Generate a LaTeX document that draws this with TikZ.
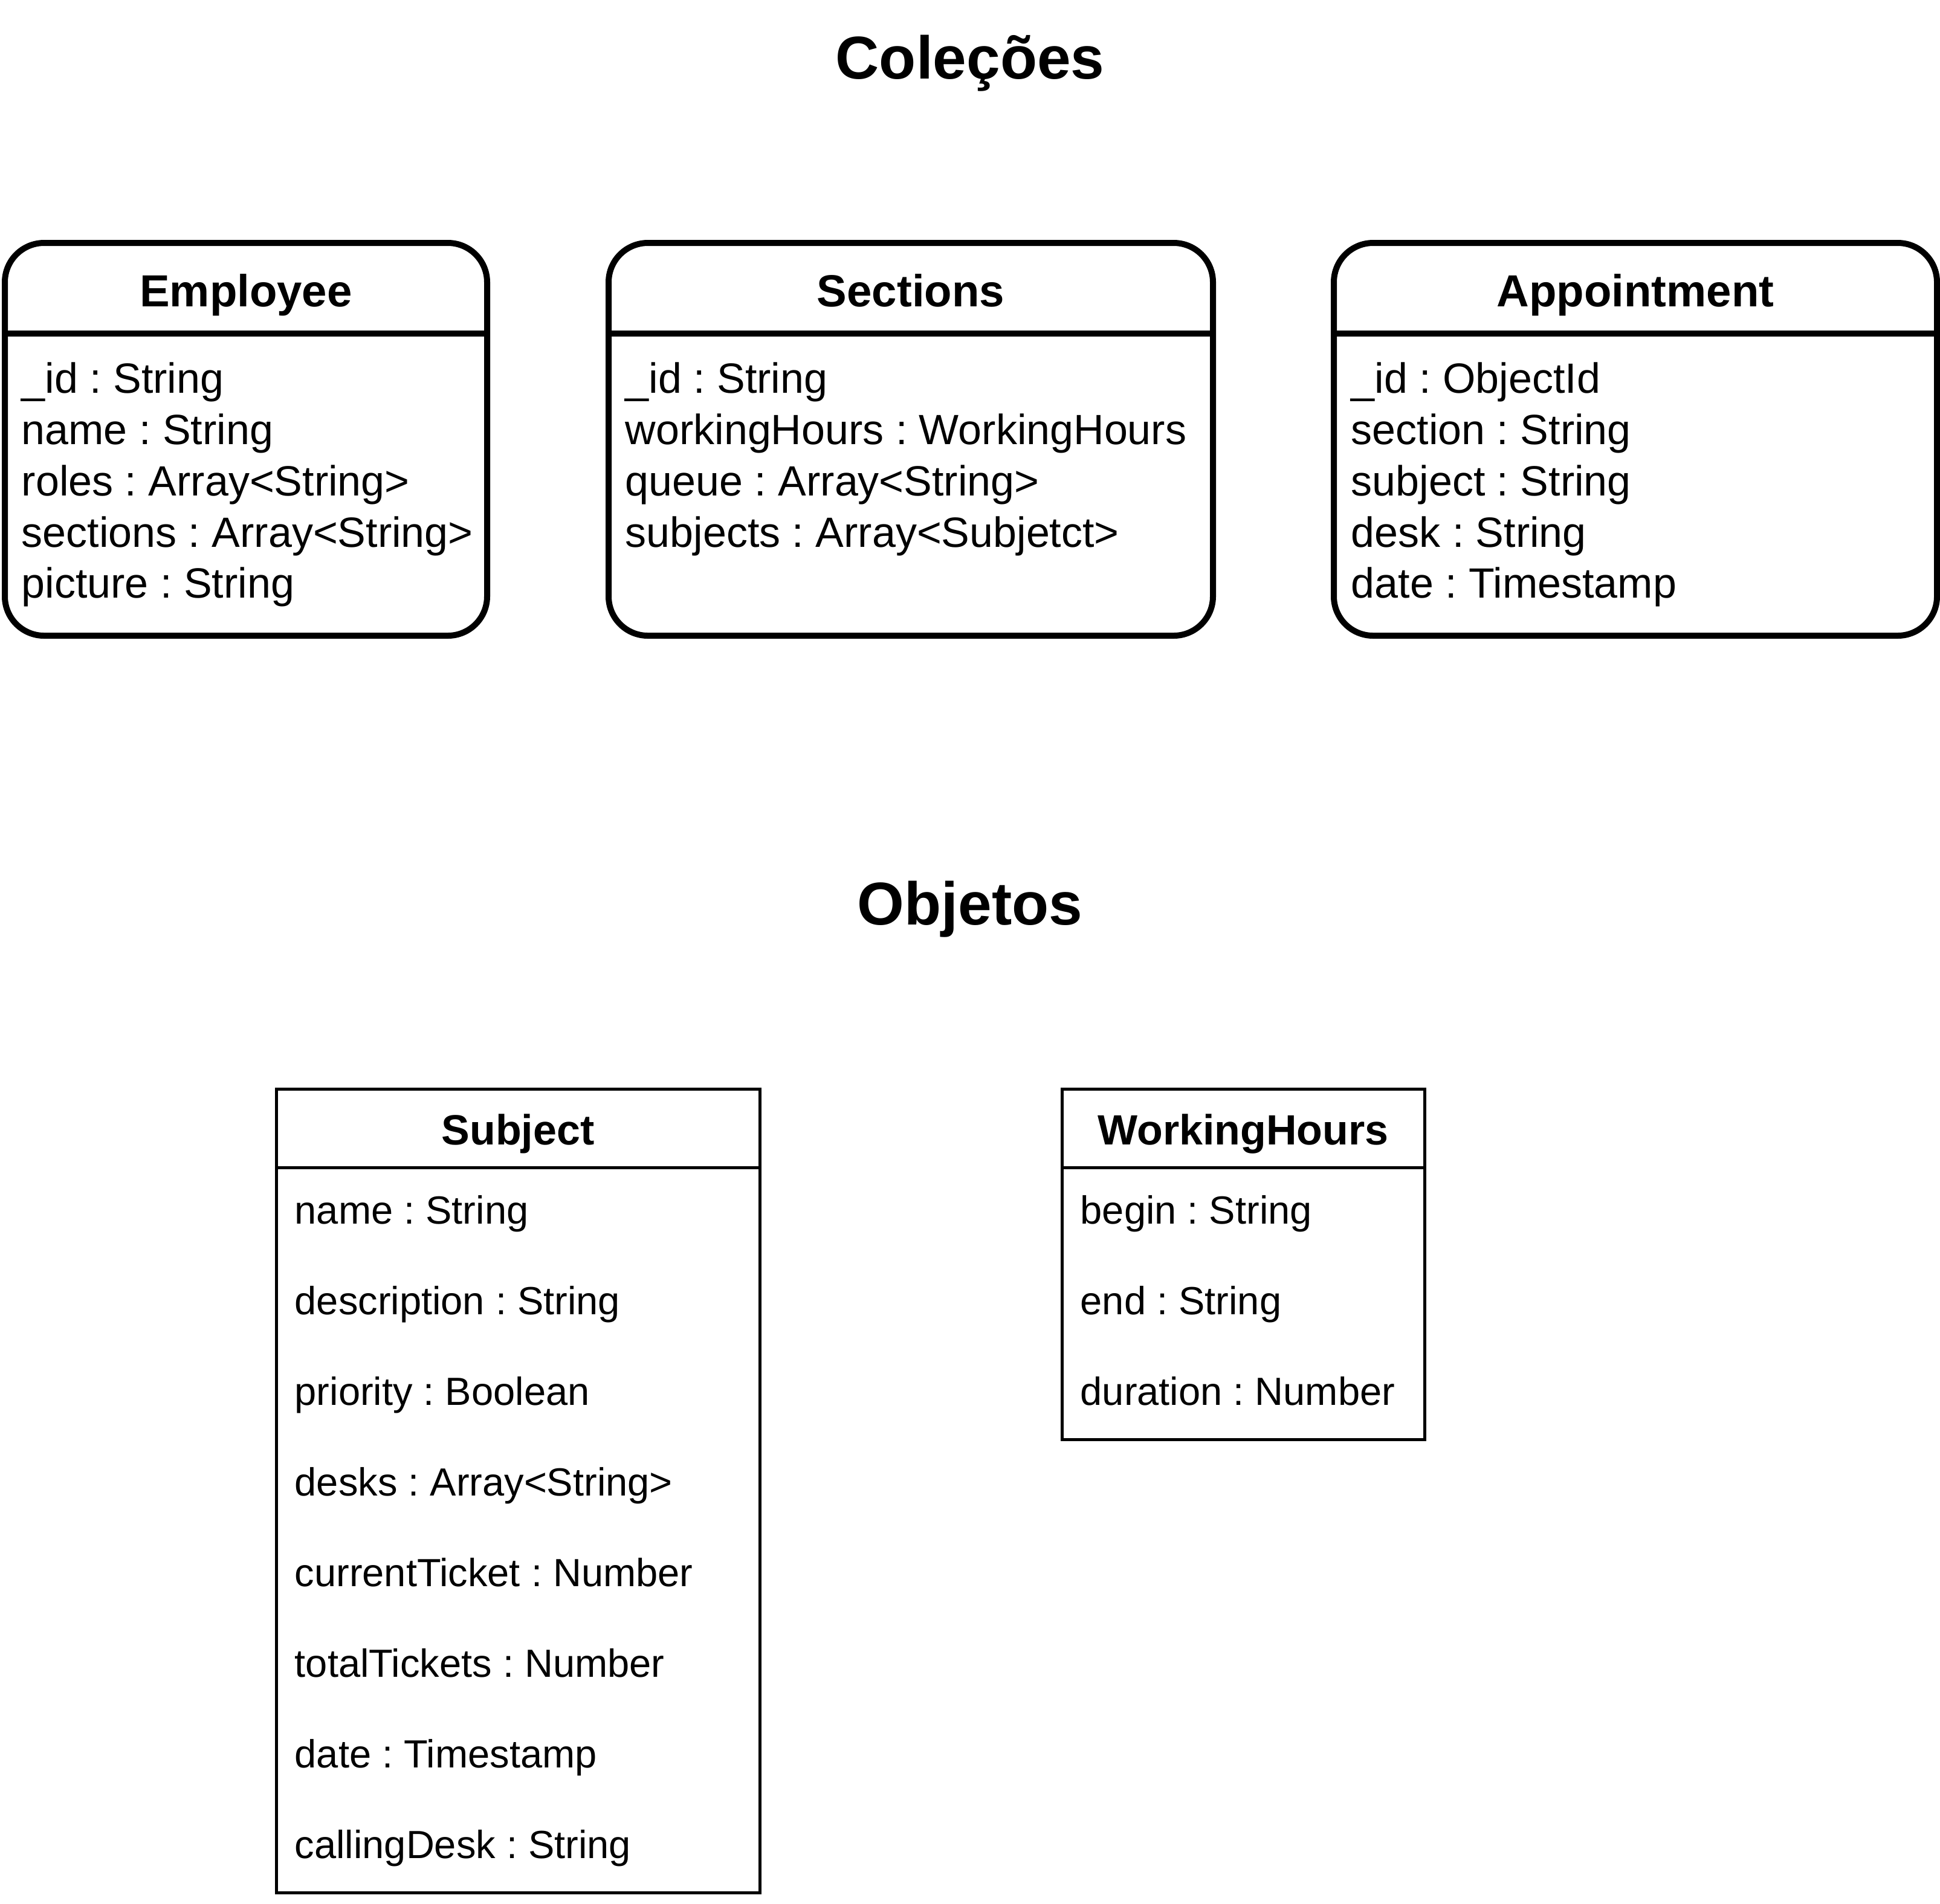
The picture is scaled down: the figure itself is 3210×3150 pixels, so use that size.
\documentclass[tikz,border=0pt]{standalone}
\usepackage{fontspec}
\setmainfont{Liberation Sans}
\frenchspacing
\begin{document}
\frenchspacing
\begin{tikzpicture}[x=0.25pt,y=-0.25pt,
  coll/.style={draw, line width=2.5pt, rounded corners=16.25pt, inner sep=0pt, outer sep=0pt},
  obj/.style={draw, line width=1.25pt, inner sep=0pt, outer sep=0pt},
  thickline/.style={line width=2.5pt},
  thinline/.style={line width=1.25pt},
  title/.style={font=\bfseries\fontsize{25pt}{30pt}\selectfont\frenchspacing, anchor=base, inner sep=0pt},
  chead/.style={font=\bfseries\fontsize{18.6pt}{22pt}\selectfont\frenchspacing, anchor=base, inner sep=0pt},
  cattr/.style={font=\fontsize{17.5pt}{21pt}\selectfont\frenchspacing, anchor=base west, inner sep=0pt},
  ohead/.style={font=\bfseries\fontsize{17.5pt}{21pt}\selectfont\frenchspacing, anchor=base, inner sep=0pt},
  oattr/.style={font=\fontsize{16.25pt}{19.5pt}\selectfont\frenchspacing, anchor=base west, inner sep=0pt},
]
\useasboundingbox (0,0) rectangle (3210,3150);

% titles
\node[title] (tcol) at (1605,130) {Coleções};
\node[title] (tobj) at (1605,1530) {Objetos};

% header line levels
\coordinate (hc) at (0,552);
\coordinate (ho) at (0,1932);

% Employee
\node[coll, minimum width=199.5pt, minimum height=162.5pt] (emp) at (407,727) {};
\draw[thickline] (emp.west |- hc) -- (emp.east |- hc);
\node[chead] (empT) at (407,507) {Employee};
\node[cattr] (emp1) at (35,650) {\_id : String};
\node[cattr] (emp2) at (35,735) {name : String};
\node[cattr] (emp3) at (35,820) {roles : Array<String>};
\node[cattr] (emp4) at (35,905) {sections : Array<String>};
\node[cattr] (emp5) at (35,989) {picture : String};

% Sections
\node[coll, minimum width=250pt, minimum height=162.5pt] (sec) at (1507,727) {};
\draw[thickline] (sec.west |- hc) -- (sec.east |- hc);
\node[chead] (secT) at (1507,507) {Sections};
\node[cattr] (sec1) at (1034,650) {\_id : String};
\node[cattr] (sec2) at (1034,735) {workingHours : WorkingHours};
\node[cattr] (sec3) at (1034,820) {queue : Array<String>};
\node[cattr] (sec4) at (1034,905) {subjects : Array<Subjetct>};

% Appointment
\node[coll, minimum width=249.5pt, minimum height=162.5pt] (app) at (2706,727) {};
\draw[thickline] (app.west |- hc) -- (app.east |- hc);
\node[chead] (appT) at (2706,507) {Appointment};
\node[cattr] (app1) at (2235,650) {\_id : ObjectId};
\node[cattr] (app2) at (2235,735) {section : String};
\node[cattr] (app3) at (2235,820) {subject : String};
\node[cattr] (app4) at (2235,905) {desk : String};
\node[cattr] (app5) at (2235,989) {date : Timestamp};

% Subject
\node[obj, minimum width=200pt, minimum height=332.5pt] (sub) at (857,2467) {};
\draw[thinline] (sub.west |- ho) -- (sub.east |- ho);
\node[ohead] (subT) at (857,1894) {Subject};
\node[oattr] (sub1) at (487,2025) {name : String};
\node[oattr] (sub2) at (487,2175) {description : String};
\node[oattr] (sub3) at (487,2325) {priority : Boolean};
\node[oattr] (sub4) at (487,2475) {desks : Array<String>};
\node[oattr] (sub5) at (487,2625) {currentTicket : Number};
\node[oattr] (sub6) at (487,2775) {totalTickets : Number};
\node[oattr] (sub7) at (487,2925) {date : Timestamp};
\node[oattr] (sub8) at (487,3075) {callingDesk : String};

% WorkingHours
\node[obj, minimum width=150pt, minimum height=145pt] (wh) at (2057,2092) {};
\draw[thinline] (wh.west |- ho) -- (wh.east |- ho);
\node[ohead] (whT) at (2057,1894) {WorkingHours};
\node[oattr] (wh1) at (1787,2025) {begin : String};
\node[oattr] (wh2) at (1787,2175) {end : String};
\node[oattr] (wh3) at (1787,2325) {duration : Number};
\end{tikzpicture}
\end{document}
